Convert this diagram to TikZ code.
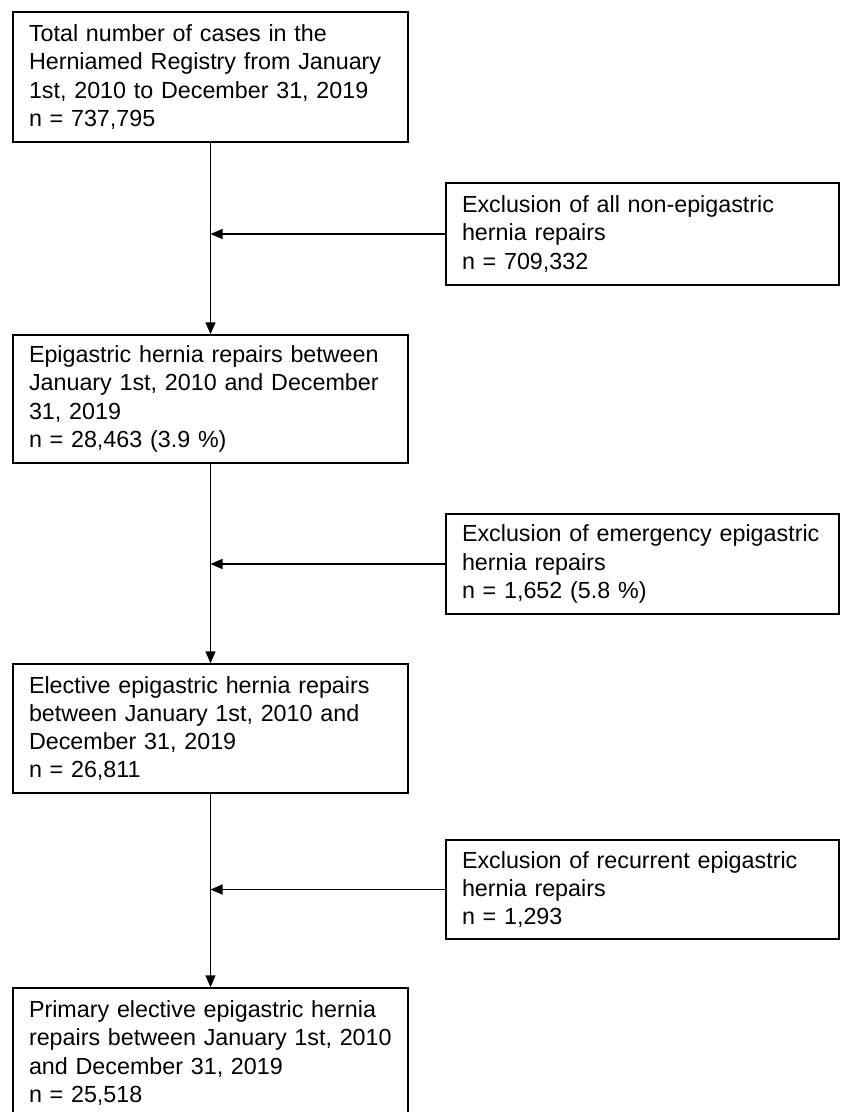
\documentclass[tikz,border=0pt]{standalone}
\usepackage{fontspec}
\setmainfont{Liberation Sans}
\usetikzlibrary{arrows.meta, calc}
\newcommand{\flowArrow}{{Triangle[length=12pt, width=10pt]}}

\begin{document}
\begin{tikzpicture}[x=1pt, y=-1pt, line width=1.5pt, font=\fontsize{23.3}{28.3}\selectfont,
	box/.style={draw, align=left, inner xsep=16pt, inner ysep=0pt, text width=363pt},
	exbox/.style={box, text width=361pt}]
	\useasboundingbox (0,0) rectangle (842,1112);

	\coordinate (C1) at (210.5,77);
	\coordinate (C2) at (210.5,399);
	\coordinate (C3) at (210.5,728.5);
	\coordinate (C4) at (210.5,1053);
	\coordinate (D1) at (642.5,234);
	\coordinate (D2) at (642.5,564);
	\coordinate (D3) at (642.5,889.5);

	\node[box, minimum height=130pt] (total) at (C1) {Total number of cases in the\\Herniamed Registry from January\\1st, 2010 to December 31, 2019\\n = 737,795};
	\node[box, minimum height=128pt] (epi) at (C2) {Epigastric hernia repairs between\\January 1st, 2010 and December\\31, 2019\\n = 28,463 (3.9 \%)};
	\node[box, minimum height=129pt] (elective) at (C3) {Elective epigastric hernia repairs\\between January 1st, 2010 and\\December 31, 2019\\n = 26,811};
	\node[box, minimum height=130pt] (primary) at (C4) {Primary elective epigastric hernia\\repairs between January 1st, 2010\\and December 31, 2019\\n = 25,518};

	\node[exbox, minimum height=102pt] (exall) at (D1) {Exclusion of all non-epigastric\\hernia repairs\\n = 709,332};
	\node[exbox, minimum height=100pt] (exemerg) at (D2) {Exclusion of emergency epigastric\\hernia repairs\\n = 1,652 (5.8 \%)};
	\node[exbox, minimum height=99pt] (exrecur) at (D3) {Exclusion of recurrent epigastric\\hernia repairs\\n = 1,293};

	\foreach \from/\to in {total/epi, epi/elective, elective/primary} {
		\draw[-\flowArrow]	(\from.south) -- (\to.north);
	}
	\foreach \ex/\main in {exall/total, exemerg/epi, exrecur/elective} {
		\draw[-\flowArrow]	(\ex.west) -- (\ex.west -| \main.south);
	}

\end{tikzpicture}
\end{document}
